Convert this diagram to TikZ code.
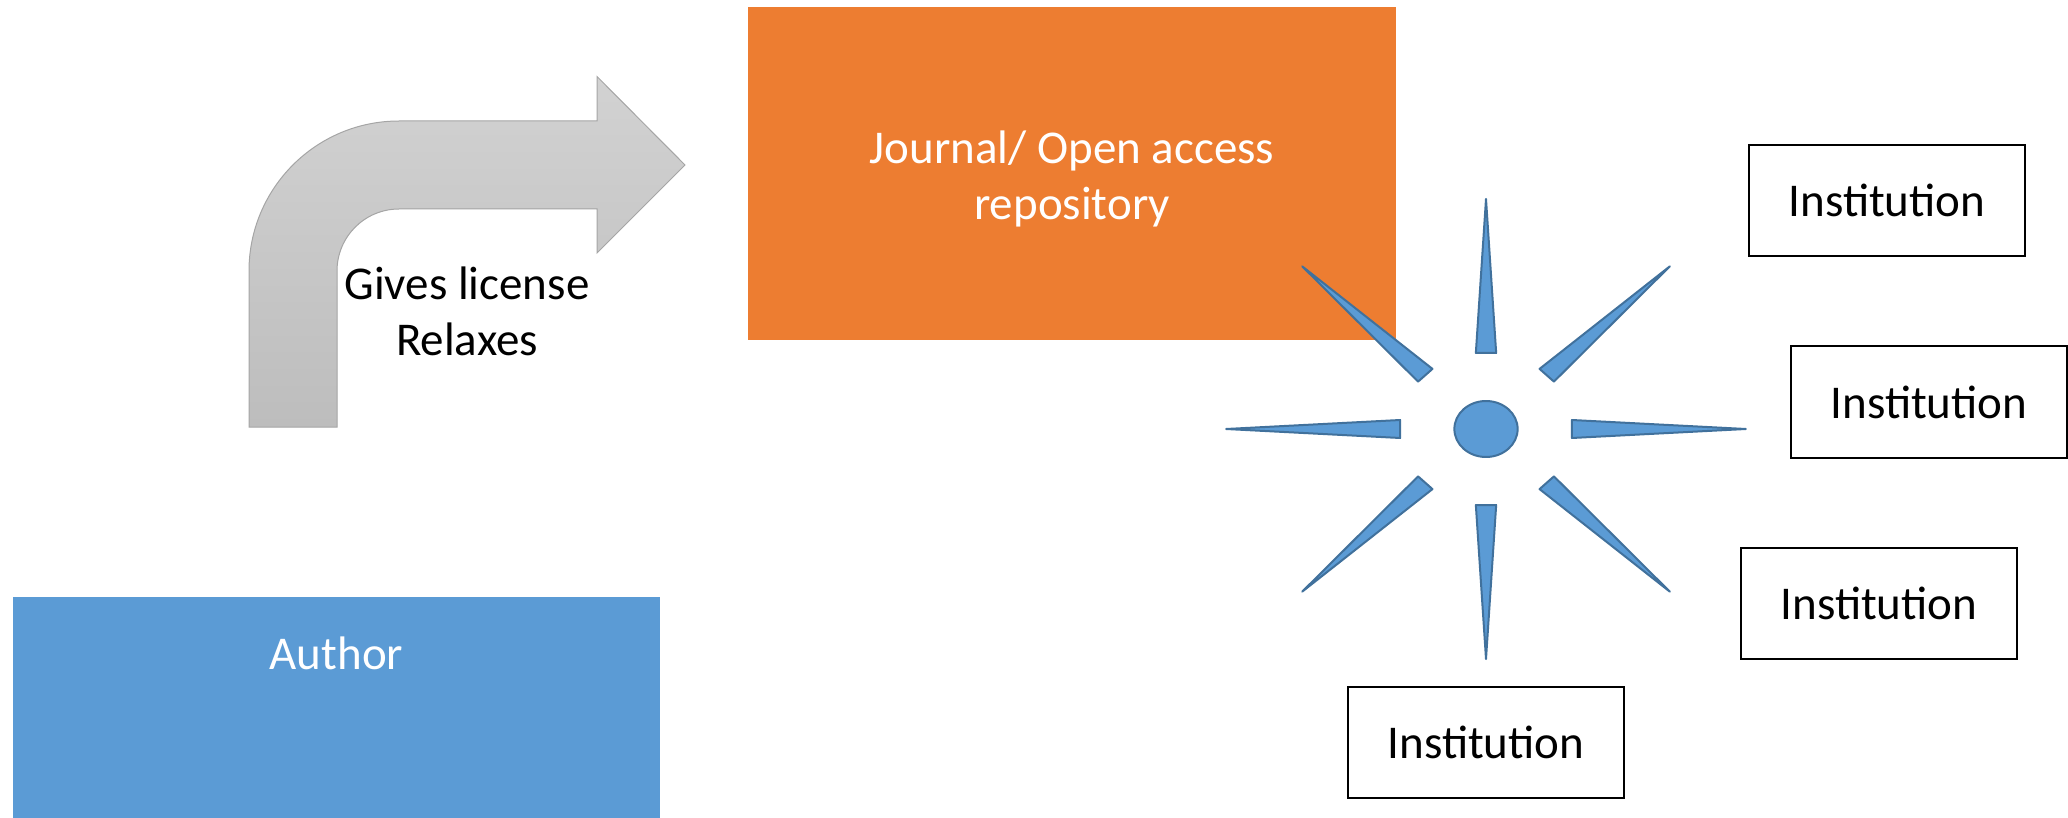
\documentclass[tikz,border=0pt]{standalone}
\usepackage{fontspec}
\setmainfont{Carlito}

\definecolor{authorblue}{HTML}{5B9BD5}
\definecolor{journalorange}{HTML}{ED7D31}
\definecolor{starline}{HTML}{41719C}
\definecolor{arrowtop}{HTML}{D2D2D2}
\definecolor{arrowbottom}{HTML}{BDBDBD}
\definecolor{arrowline}{HTML}{A5A5A5}

\begin{document}
\begin{tikzpicture}[x=0.5pt, y=-0.5pt,
		every node/.style={font=\fontsize{23.5}{28}\selectfont},
		institution/.style={draw, black, line width=1pt, minimum width=138pt, minimum height=55.5pt, inner sep=0pt},
		whitetext/.style={text=white, align=center, inner sep=0pt},
		starray/.style={fill=authorblue, draw=starline, line width=1pt, line join=round}]
			\useasboundingbox (0,0) rectangle (2068,818);
			
			% bent arrow
			\draw[top color=arrowtop, bottom color=arrowbottom, draw=arrowline, line width=0.5pt]
				(249,427) -- (249,271) arc[start angle=180, end angle=270, radius=150]
				-- (597,121) -- (597,76.5) -- (685,165) -- (597,253) -- (597,209)
				-- (399,209) arc[start angle=270, end angle=180, radius=62]
				-- (337,427) -- cycle;
			\node[align=center, inner sep=0pt] (licence) at (467,311) {Gives license\\Relaxes};
			
			% boxes
			\fill[authorblue] (13,597) rectangle (660,830);
			\node[whitetext] (author) at (336.5,653) {Author};
			\node[fill=journalorange, minimum width=324pt, minimum height=166.5pt, inner sep=0pt] (journal) at (1072,173.5) {};
			\node[whitetext] (journaltext) at (1072,179) {Journal/ Open access\\repository};
			
			% star
			\begin{scope}[shift={(1486,429)}, xscale=1.13]
				\foreach \a in {0,45,...,315}
					\draw[starray, rotate=\a] (230,0) -- (76,9) -- (76,-9) -- cycle;
				\draw[starray] (0,0) circle[radius=28];
			\end{scope}
			
			\node[institution] (inst1) at (1887,200.5) {Institution};
			\node[institution] (inst2) at (1929,402) {Institution};
			\node[institution] (inst3) at (1879,603.5) {Institution};
			\node[institution] (inst4) at (1486,742.5) {Institution};
\end{tikzpicture}
\end{document}
